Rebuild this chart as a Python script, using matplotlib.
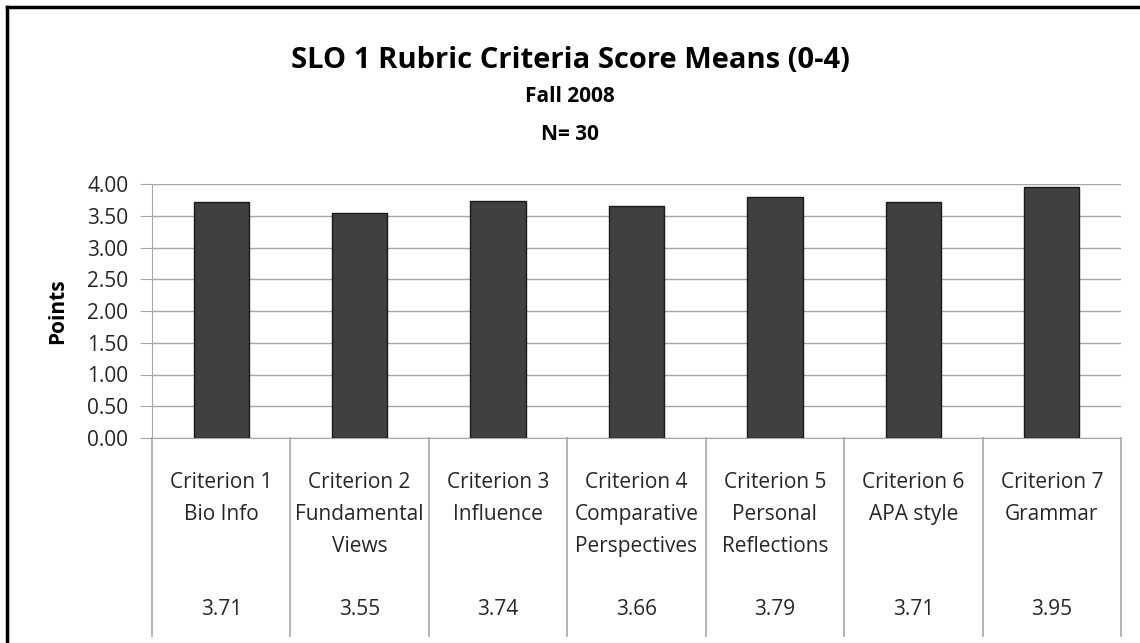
import matplotlib
matplotlib.use('Agg')
import matplotlib.pyplot as plt
from matplotlib import font_manager
from matplotlib.lines import Line2D

# data
criteria = ['Criterion 1\nBio Info', 'Criterion 2\nFundamental\nViews', 'Criterion 3\nInfluence',
            'Criterion 4\nComparative\nPerspectives', 'Criterion 5\nPersonal\nReflections',
            'Criterion 6\nAPA style', 'Criterion 7\nGrammar']
means = [3.71, 3.55, 3.74, 3.66, 3.79, 3.71, 3.95]
yticks = [0, 0.5, 1, 1.5, 2, 2.5, 3, 3.5, 4]

names = set(f.name for f in font_manager.fontManager.ttflist)
fam = 'Liberation Sans Narrow' if 'Liberation Sans Narrow' in names else 'Open Sans'
plt.rcParams['font.family'] = [fam, 'DejaVu Sans']

W, H = 1140, 643
fig = plt.figure(figsize=(W / 100, H / 100), dpi=100)
grid = '#a6a6a6'

ax = fig.add_axes([152 / W, 1 - 438 / H, (1121 - 152) / W, (438 - 184) / H])
x = range(len(means))
ax.bar(x, means, width=0.4, color='#404040', edgecolor='#1a1a1a', linewidth=1, zorder=3)
ax.set_xlim(-0.5, len(means) - 0.5)
ax.set_ylim(0, 4)
ax.set_yticks(yticks)
ax.set_yticklabels(['%.2f' % v for v in yticks], fontsize=15, color='#262626')
ax.set_xticks([])
ax.grid(axis='y', color=grid, linewidth=1, zorder=0)
for s in ['top', 'right']:
    ax.spines[s].set_visible(False)
ax.spines['left'].set_color(grid)
ax.spines['bottom'].set_color(grid)
ax.tick_params(axis='y', length=9, color=grid, pad=8)
ax.set_ylabel('Points', fontsize=15, fontweight='bold', labelpad=14)

# data table below the plot
tab = fig.add_axes([152 / W, 1 - 636 / H, (1121 - 152) / W, (636 - 438) / H], sharex=ax)
tab.set_ylim(636, 438)
tab.axis('off')
for b in [i - 0.5 for i in range(len(means) + 1)]:
    tab.plot([b, b], [438, 636], color=grid, linewidth=1.2, clip_on=False)
for i, (lab, v) in enumerate(zip(criteria, means)):
    tab.text(i, 472, lab, ha='center', va='top', fontsize=15, color='#262626', linespacing=1.68)
    tab.text(i, 610, '%.2f' % v, ha='center', va='center', fontsize=15, color='#262626')

fig.text(0.5, 1 - 60 / H, 'SLO 1 Rubric Criteria Score Means (0-4)', ha='center', va='center',
         fontsize=21, fontweight='bold')
fig.text(0.5, 1 - 96 / H, 'Fall 2008', ha='center', va='center', fontsize=15, fontweight='bold')
fig.text(0.5, 1 - 135 / H, 'N= 30', ha='center', va='center', fontsize=15, fontweight='bold')

# chart border (cropped at right and bottom)
fig.add_artist(Line2D([7 / W, 1], [1 - 7 / H, 1 - 7 / H], color='black', linewidth=2.5))
fig.add_artist(Line2D([7 / W, 7 / W], [0, 1 - 7 / H], color='black', linewidth=2.5))

fig.savefig('out.png', dpi=100)
